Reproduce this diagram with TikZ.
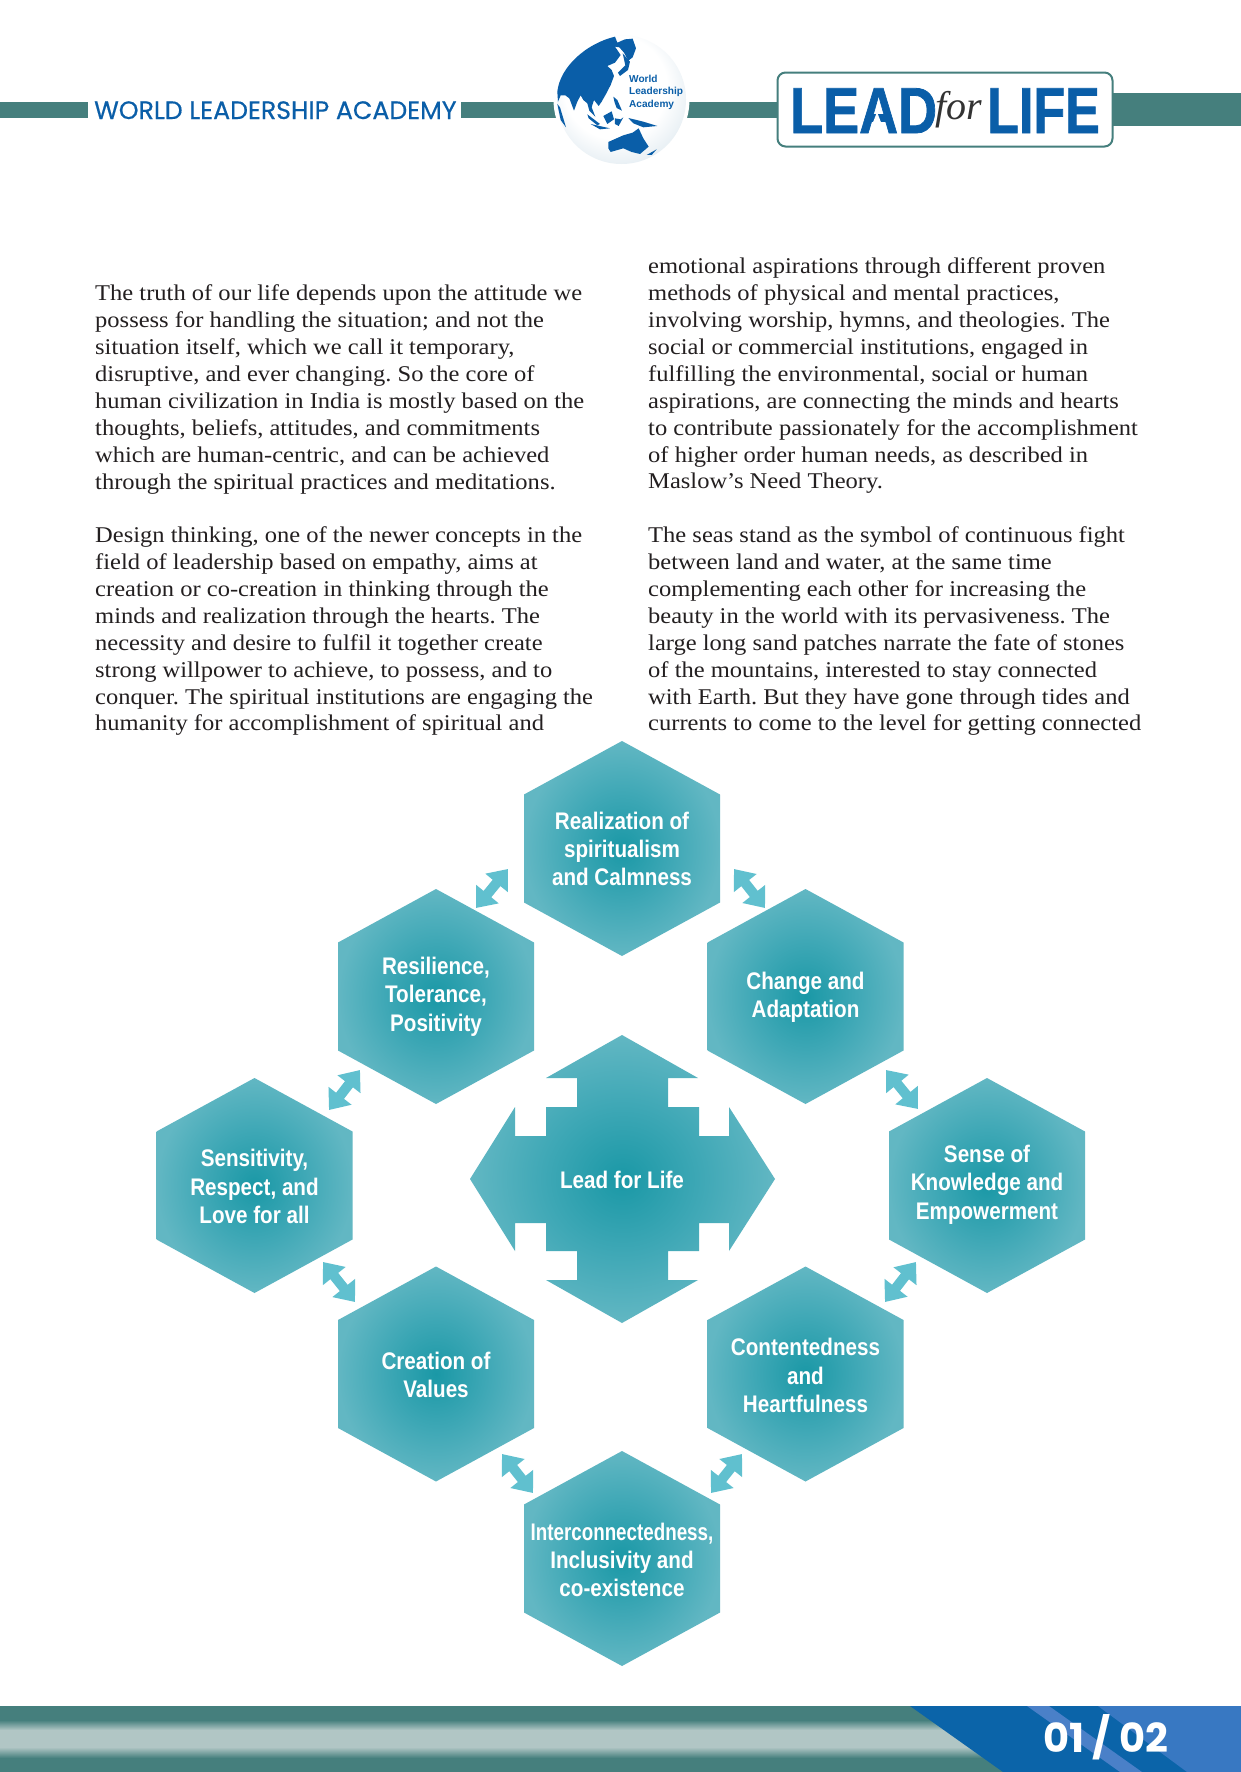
\documentclass[tikz,border=0pt]{standalone}
\usepackage{fontspec}
\usetikzlibrary{arrows.meta}
\setmainfont{Liberation Serif}
\newfontfamily\bodyfont{Liberation Serif}[FakeStretch=1.09]
\newfontfamily\hexfont{Liberation Sans}[FakeStretch=.86]
\newfontfamily\wlafont{Poppins}[FakeBold=0.5]
\newfontfamily\logofont{Liberation Sans}[FakeBold=1.2]
\newfontfamily\forfont{Liberation Serif}
\newfontfamily\gfont{Liberation Sans}
\newfontfamily\numfont{Poppins}
\definecolor{teal}{HTML}{457F7D}
\definecolor{lightteal}{HTML}{B1C6C5}
\definecolor{logoblue}{HTML}{0A5EA8}
\definecolor{bluemid}{HTML}{0B64A9}
\definecolor{bluestripe}{HTML}{4A80C8}
\definecolor{bluelight}{HTML}{3878C2}
\definecolor{hexc}{HTML}{1A98A6}
\definecolor{hexm}{HTML}{3FA8B6}
\definecolor{hexe}{HTML}{62B7C3}
\definecolor{arrowc}{HTML}{60C0CF}
\definecolor{bodyc}{HTML}{231F20}
\definecolor{globeedge}{HTML}{DDE8EF}
\pgfdeclareradialshading{hexs}{\pgfpoint{0bp}{0bp}}{color(0bp)=(hexc);color(13bp)=(hexm);color(25bp)=(hexe);color(50bp)=(hexe)}
\pgfdeclareverticalshading{foots}{100bp}{color(0bp)=(teal);color(35.6bp)=(teal);color(43.9bp)=(lightteal);color(56.8bp)=(lightteal);color(64.4bp)=(teal);color(100bp)=(teal)}
\pgfdeclareradialshading{globes}{\pgfpoint{-4bp}{8bp}}{color(0bp)=(white);color(20bp)=(white);color(33bp)=(globeedge);color(50bp)=(globeedge)}
\tikzset{
  hexshape/.style={shade,shading=hexs},
  hextext/.style={font=\hexfont\bfseries\fontsize{24}{28.4}\selectfont,text=white,align=center,inner sep=0pt},
  para/.style={font=\bodyfont\fontsize{22.5}{26.92}\selectfont\frenchspacing,text=bodyc,align=left,anchor=north west,inner sep=0pt},
  biarrow/.style={arrowc,line width=10pt,{Triangle[length=18pt,width=28pt]}-{Triangle[length=18pt,width=28pt]}},
  land/.style={fill=logoblue,draw=none},
  headbar/.style={fill=teal,draw=none},
}
\newcommand{\hexa}[5]{%
  \path[hexshape,shift={(#2,#3)}] (0,-107.5) -- (98,-54) -- (98,54) -- (0,107.5) -- (-98,54) -- (-98,-54) -- cycle;
  \node[hextext] (#1) at (#2,#4) {#5};}
\newcommand{\fl}{\rule{0pt}{20pt}}
\begin{document}
\begin{tikzpicture}[x=1pt,y=-1pt]
\useasboundingbox (0,0) rectangle (1241,1772);
\fill[white] (0,0) rectangle (1241,1772);
% header bars
\fill[headbar] (0,102) rectangle (88,118);
\fill[headbar] (461,102) rectangle (556,118);
\fill[headbar] (686,102) rectangle (780,118);
\fill[headbar] (1110,93) rectangle (1241,126);
\node[font=\wlafont\fontsize{25.2}{30}\selectfont,text=logoblue,anchor=base west,inner sep=0pt] (wla) at (94,119) {WORLD LEADERSHIP ACADEMY};
% globe
\fill[white] (621.5,99.5) circle (68);
\path[shade,shading=globes] (621.5,99.5) circle (64.5);
\begin{scope}[shift={(500,20)},scale=0.3333]
\fill[land] (172,215) .. controls (180,140) and (260,70) .. (345,50) -- (352,68) -- (375,58) -- (398,56) -- (408,85) -- (398,112) -- (385,122) -- (372,98) -- (358,82) -- (345,80) -- (362,105) -- (345,128) -- (322,138) -- (335,150) -- (342,168) -- (332,195) -- (318,222) -- (305,245) -- (296,258) -- (282,240) -- (275,262) -- (286,290) -- (268,272) -- (262,250) -- (250,240) -- (242,226) -- (232,245) -- (222,272) -- (208,235) -- (196,226) -- (182,226) -- (174,245) -- cycle;
\fill[land] (368,100) -- (390,125) -- (384,150) -- (360,168) -- (354,158) -- (376,136) -- cycle;
\fill[land] (172,252) -- (180,262) -- (198,322) -- (182,300) -- cycle;
\fill[land] (262,283) -- (300,312) -- (292,316) -- (266,295) -- cycle;
\fill[land] (310,288) -- (335,274) -- (342,298) -- (322,312) -- cycle;
\fill[land] (340,230) -- (352,240) -- (366,272) -- (350,264) -- (344,248) -- cycle;
\fill[land] (345,295) -- (362,298) -- (370,292) -- (356,318) -- (345,312) -- cycle;
\fill[land] (385,294) -- (430,305) -- (472,318) -- (430,322) -- (400,310) -- cycle;
\fill[land] (272,312) -- (330,325) -- (300,328) -- cycle;
\fill[land] (325,366) -- (370,346) -- (398,338) -- (416,325) -- (430,355) -- (446,380) -- (420,402) -- (395,396) -- (370,385) -- (332,396) -- (325,385) -- cycle;
\fill[land] (440,405) -- (470,388) -- (455,405) -- cycle;
\end{scope}
\node[font=\gfont\bfseries\fontsize{10.1}{12.6}\selectfont,text=logoblue,align=left,anchor=west,inner sep=0pt] (gtext) at (629,92) {World\\Leadership\\Academy};
% logo
\draw[teal,line width=2pt,fill=white,rounded corners=8pt] (777.5,72.5) rectangle (1112.5,146.5);
\node[font=\logofont\bfseries\fontsize{65}{65}\selectfont,text=logoblue,anchor=base west,inner sep=0pt] (lead) at (790,133) {\scalebox{0.83}[1]{LEAD}};
\fill[white] (868.5,134) -- (885.5,134) -- (877,112) -- cycle;
\node[font=\forfont\itshape\fontsize{40}{40}\selectfont,text=black!80,anchor=base,inner sep=0pt] (forw) at (959,119) {for};
\node[font=\logofont\bfseries\fontsize{65}{65}\selectfont,text=logoblue,anchor=base west,inner sep=0pt] (life) at (987,133) {\scalebox{0.80}[1]{LIFE}};
% body text
\node[para] (p1) at (95,280.4) {\fl The truth of our life depends upon the attitude we\\possess for handling the situation; and not the\\situation itself, which we call it temporary,\\disruptive, and ever changing. So the core of\\human civilization in India is mostly based on the\\thoughts, beliefs, attitudes, and commitments\\which are human-centric, and can be achieved\\through the spiritual practices and meditations.};
\node[para] (p2) at (95,522.3) {\fl Design thinking, one of the newer concepts in the\\field of leadership based on empathy, aims at\\creation or co-creation in thinking through the\\minds and realization through the hearts. The\\necessity and desire to fulfil it together create\\strong willpower to achieve, to possess, and to\\conquer. The spiritual institutions are engaging the\\humanity for accomplishment of spiritual and};
\node[para] (p3) at (648,253.4) {\fl emotional aspirations through different proven\\methods of physical and mental practices,\\involving worship, hymns, and theologies. The\\social or commercial institutions, engaged in\\fulfilling the environmental, social or human\\aspirations, are connecting the minds and hearts\\to contribute passionately for the accomplishment\\of higher order human needs, as described in\\Maslow’s Need Theory.};
\node[para] (p4) at (648,522.3) {\fl The seas stand as the symbol of continuous fight\\between land and water, at the same time\\complementing each other for increasing the\\beauty in the world with its pervasiveness. The\\large long sand patches narrate the fate of stones\\of the mountains, interested to stay connected\\with Earth. But they have gone through tides and\\currents to come to the level for getting connected};
% central star
\path[hexshape] (622,1035) -- (698,1078) -- (668,1078) -- (668,1107) -- (699,1107) -- (699,1136) -- (729,1136) -- (729,1107) -- (775,1179) -- (729,1251) -- (729,1223) -- (699,1223) -- (699,1251) -- (668,1251) -- (668,1280) -- (698,1280) -- (622,1323) -- (546,1280) -- (577,1280) -- (577,1251) -- (546,1251) -- (546,1223) -- (515,1223) -- (515,1251) -- (470,1179) -- (515,1107) -- (515,1136) -- (546,1136) -- (546,1107) -- (577,1107) -- (577,1078) -- (546,1078) -- cycle;
\node[hextext] (lead4life) at (622,1180) {Lead for Life};
% hexagons
\hexa{top}{622}{848.5}{849}{Realization of\\spiritualism\\and Calmness}
\hexa{res}{436}{996.5}{996.5}{Resilience,\\Tolerance,\\Positivity}
\hexa{chg}{805.5}{996.5}{997}{Change and\\Adaptation}
\hexa{sen}{254.5}{1185.5}{1186.5}{Sensitivity,\\Respect, and\\Love for all}
\hexa{kno}{987}{1185.5}{1184.5}{Sense of\\Knowledge and\\Empowerment}
\hexa{cre}{436}{1374}{1375}{Creation of\\Values}
\hexa{con}{805.5}{1374}{1375.5}{Contentedness\\and\\Heartfulness}
\hexa{int}{622}{1558.5}{1560}{\scalebox{.91}[1]{Interconnectedness,}\\Inclusivity and\\co-existence}
% double arrows
\coordinate (a1s) at (476,908); \coordinate (a1e) at (508,869);
\coordinate (a2s) at (734,869); \coordinate (a2e) at (765,908);
\coordinate (a3s) at (329,1110); \coordinate (a3e) at (360,1070);
\coordinate (a4s) at (323,1262); \coordinate (a4e) at (355,1302);
\coordinate (a5s) at (886,1070); \coordinate (a5e) at (918,1109);
\coordinate (a6s) at (885,1302); \coordinate (a6e) at (916,1262);
\coordinate (a7s) at (502,1454); \coordinate (a7e) at (533,1493);
\coordinate (a8s) at (711,1493); \coordinate (a8e) at (742,1454);
\foreach \k in {1,...,8} \draw[biarrow] (a\k s) -- (a\k e);
% footer
\path[shade,shading=foots] (0,1706) rectangle (1241,1772);
\fill[bluemid] (910,1706) -- (1241,1706) -- (1241,1772) -- (1003,1772) -- cycle;
\fill[bluestripe] (1027,1706) -- (1049,1706) -- (1142,1772) -- (1120,1772) -- cycle;
\fill[bluelight] (1098,1706) -- (1241,1706) -- (1241,1772) -- (1187,1772) -- cycle;
\node[font=\numfont\bfseries\fontsize{40}{40}\selectfont,text=white,anchor=base west,inner sep=0pt] (pnum) at (1043,1752) {01 / 02};
\end{tikzpicture}
\end{document}
